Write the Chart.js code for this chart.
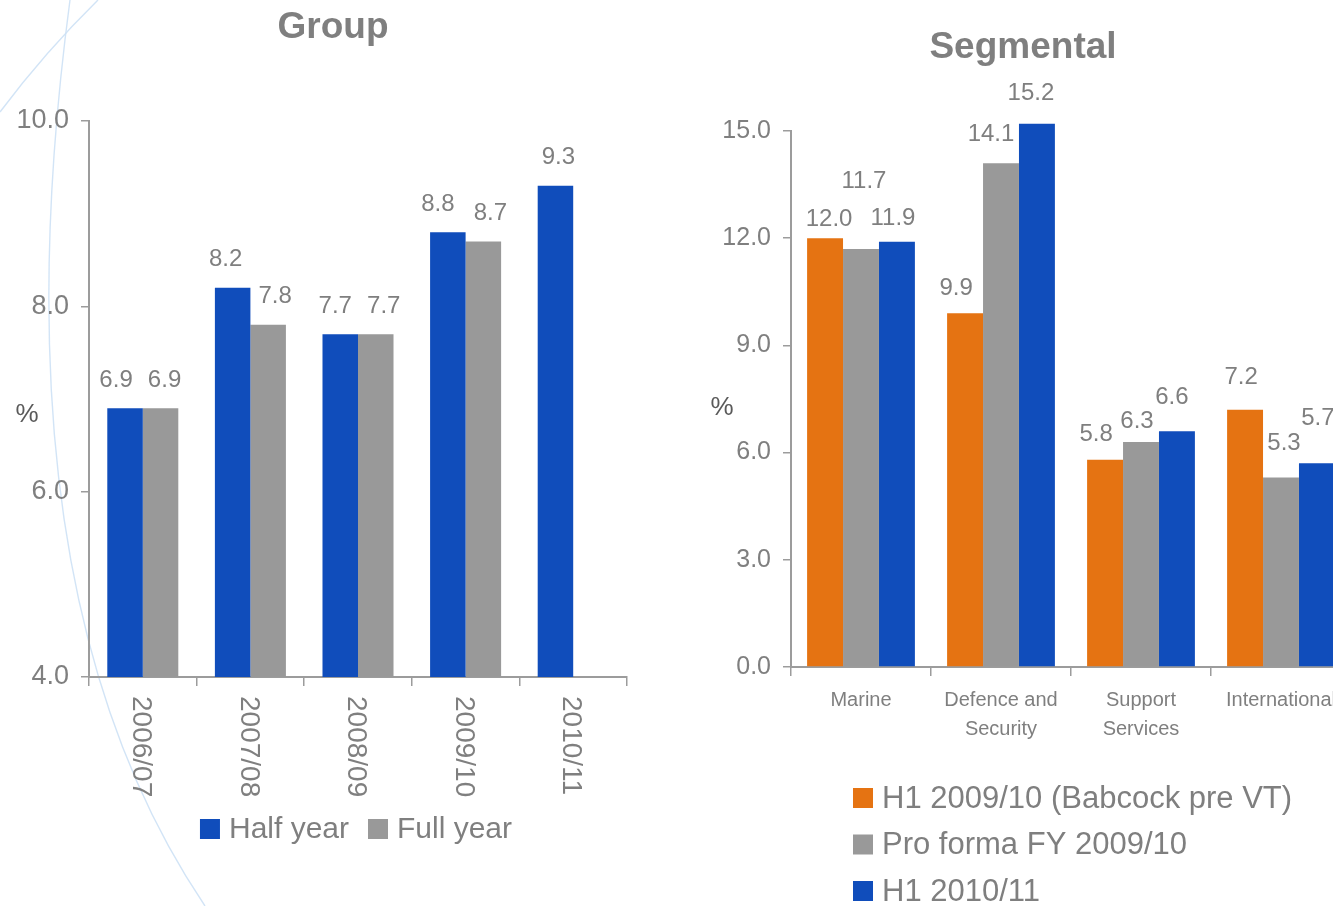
<!DOCTYPE html>
<html>
<head>
<meta charset="utf-8">
<script src="https://cdn.jsdelivr.net/npm/chart.js@4.4.1/dist/chart.umd.min.js"></script>
<style>
  html, body { margin: 0; padding: 0; background: #ffffff; overflow: hidden; width: 1333px; height: 906px; }
  canvas { position: absolute; top: 0; }
  #bg { left: 0; }
  #groupChart { left: 0; width: 690px; height: 906px; }
  #segChart { left: 690px; width: 700px; height: 906px; }
</style>
</head>
<body>
<canvas id="bg" width="1333" height="906"></canvas>
<canvas id="groupChart" width="690" height="906"></canvas>
<canvas id="segChart" width="700" height="906"></canvas>
<script>
// ---- Group margins (%) ----
const groupYears = ['2006/07', '2007/08', '2008/09', '2009/10', '2010/11'];
const halfYear   = [6.9, 8.2, 7.7, 8.8, 9.3];
const fullYear   = [6.9, 7.8, 7.7, 8.7, null];
const groupAxis  = { min: 4, max: 10, step: 2 };

// ---- Segmental margins (%) ----
const segments   = [['Marine'], ['Defence and', 'Security'], ['Support', 'Services'], ['International']];
const h1PreVT    = [12.0, 9.9, 5.8, 7.2];
const proFormaFY = [11.7, 14.1, 6.3, 5.3];
const h1Current  = [11.9, 15.2, 6.6, 5.7];
const segAxis    = { min: 0, max: 15, step: 3 };

// ---- look ----
const FONT = '"Liberation Sans", Arial, Helvetica, sans-serif';
const TEXT = '#7f7f7f';
const UNIT = '#5a5a5a';
const AXIS = '#9c9c9c';
const BLUE = '#104dbb';
const GREY = '#999999';
const ORANGE = '#e57312';

// value-label placement: px above bar top and sideways shift, per series/point
const groupLabelLift = [[28, 28, 28, 28, 28], [28, 28, 28, 28, 28]];
const groupLabelShift = [[-9, -7, -5, -10, 3], [4, 7, 8, 7, 0]];
const segLabelLift = [[19, 25, 25, 32], [68, 29, 21, 34], [23, 30, 34, 45]];
const segLabelShift = [[4, -9, -9, -4], [3, -10, -4, 3], [-4, -6, -5, 1]];

Chart.defaults.font.family = FONT;
Chart.defaults.color = TEXT;

// faint slide ornament behind the charts
(function () {
  const c = document.getElementById('bg').getContext('2d');
  c.strokeStyle = 'rgba(205,225,245,0.9)';
  c.lineWidth = 1.4;
  c.beginPath();
  c.moveTo(70, 0);
  c.bezierCurveTo(30, 300, 32, 650, 205, 906);
  c.stroke();
  c.beginPath();
  c.moveTo(0, 112);
  c.quadraticCurveTo(45, 52, 98, 0);
  c.stroke();
})();

// value labels above each bar
const valueLabels = {
  id: 'valueLabels',
  afterDatasetsDraw(chart, args, o) {
    const ctx = chart.ctx;
    ctx.save();
    ctx.font = `${o.size}px ${FONT}`;
    ctx.fillStyle = TEXT;
    ctx.textAlign = 'center';
    ctx.textBaseline = 'middle';
    chart.data.datasets.forEach((ds, di) => {
      chart.getDatasetMeta(di).data.forEach((bar, i) => {
        const v = ds.data[i];
        if (v === null || v === undefined) return;
        ctx.fillText(v.toFixed(1), bar.x + o.shift[di][i], bar.y - o.lift[di][i]);
      });
    });
    ctx.restore();
  }
};

// title, unit, legend and (optionally) vertical category labels
const chartDressing = {
  id: 'chartDressing',
  afterDraw(chart, args, o) {
    const ctx = chart.ctx;
    ctx.save();
    ctx.fillStyle = TEXT;
    ctx.font = `bold ${o.titleSize}px ${FONT}`;
    ctx.textAlign = 'center';
    ctx.textBaseline = 'alphabetic';
    ctx.fillText(o.title, o.titleX, o.titleY);

    ctx.fillStyle = UNIT;
    ctx.font = `${o.unitSize}px ${FONT}`;
    ctx.textBaseline = 'middle';
    ctx.fillText('%', o.unitX, o.unitY);

    if (o.verticalLabels) {
      const xs = chart.scales.x;
      ctx.fillStyle = TEXT;
      ctx.font = `${o.verticalLabels.size}px ${FONT}`;
      ctx.textAlign = 'left';
      chart.data.labels.forEach((lab, i) => {
        ctx.save();
        ctx.translate(xs.getPixelForTick(i) + o.verticalLabels.dx, xs.top + o.verticalLabels.gap);
        ctx.rotate(Math.PI / 2);
        ctx.fillText(lab, 0, 0);
        ctx.restore();
      });
    }

    const lg = o.legend;
    ctx.font = `${lg.size}px ${FONT}`;
    ctx.textAlign = 'left';
    ctx.textBaseline = 'middle';
    const items = chart.data.datasets.map(d => ({ text: d.label, color: d.backgroundColor }));
    if (lg.layout === 'row') {
      const widths = items.map(it => lg.box + lg.boxGap + ctx.measureText(it.text).width);
      const total = widths.reduce((a, b) => a + b, 0) + lg.itemGap * (items.length - 1);
      let x = lg.centerX - total / 2;
      items.forEach((it, i) => {
        ctx.fillStyle = it.color;
        ctx.fillRect(x, lg.y - lg.box / 2, lg.box, lg.box);
        ctx.fillStyle = TEXT;
        ctx.fillText(it.text, x + lg.box + lg.boxGap, lg.y + 1);
        x += widths[i] + lg.itemGap;
      });
    } else {
      items.forEach((it, i) => {
        const y = lg.y + i * lg.rowGap;
        ctx.fillStyle = it.color;
        ctx.fillRect(lg.x, y - lg.box / 2, lg.box, lg.box);
        ctx.fillStyle = TEXT;
        ctx.fillText(it.text, lg.x + lg.box + lg.boxGap, y + 1);
      });
    }
    ctx.restore();
  }
};

function axisY(range, labelSize, width) {
  return {
    min: range.min, max: range.max,
    ticks: { stepSize: range.step, callback: v => v.toFixed(1), font: { size: labelSize }, color: TEXT, padding: 12 },
    grid: { display: true, drawOnChartArea: false, drawTicks: true, tickLength: 8, color: AXIS, lineWidth: 1.5 },
    border: { display: true, color: AXIS, width: 2 },
    afterFit: s => { s.width = width; }
  };
}

// Group chart (axis starts at 4.0, bars are clipped to the plot area)
new Chart(document.getElementById('groupChart'), {
  type: 'bar',
  data: {
    labels: groupYears,
    datasets: [
      { label: 'Half year', data: halfYear, backgroundColor: BLUE },
      { label: 'Full year', data: fullYear, backgroundColor: GREY }
    ]
  },
  options: {
    responsive: false,
    animation: false,
    events: [],
    layout: { padding: { left: 0, right: 63, top: 121, bottom: 0 } },
    datasets: { bar: { categoryPercentage: 0.66, barPercentage: 1.0 } },
    plugins: {
      legend: { display: false },
      title: { display: false },
      tooltip: { enabled: false },
      valueLabels: { size: 24, lift: groupLabelLift, shift: groupLabelShift },
      chartDressing: {
        title: 'Group', titleSize: 37, titleX: 333, titleY: 38,
        unitSize: 26, unitX: 27, unitY: 415,
        verticalLabels: { size: 28, gap: 19, dx: -2 },
        legend: { layout: 'row', size: 30, box: 20, boxGap: 9, itemGap: 19, centerX: 356, y: 829 }
      }
    },
    scales: {
      x: {
        ticks: { display: false },
        grid: { display: true, offset: true, drawOnChartArea: false, drawTicks: true, tickLength: 9, color: AXIS, lineWidth: 1.5 },
        border: { display: true, color: AXIS, width: 2 },
        afterFit: s => { s.height = 229; }
      },
      y: axisY(groupAxis, 27, 89)
    }
  },
  plugins: [valueLabels, chartDressing]
});

// Segmental chart (the 15.2 bar is allowed to rise above the 15.0 axis top)
new Chart(document.getElementById('segChart'), {
  type: 'bar',
  data: {
    labels: segments,
    datasets: [
      { label: 'H1 2009/10 (Babcock pre VT)', data: h1PreVT, backgroundColor: ORANGE },
      { label: 'Pro forma FY 2009/10', data: proFormaFY, backgroundColor: GREY },
      { label: 'H1 2010/11', data: h1Current, backgroundColor: BLUE }
    ]
  },
  options: {
    responsive: false,
    animation: false,
    events: [],
    layout: { padding: { left: 0, right: 39, top: 131, bottom: 0 } },
    datasets: { bar: { categoryPercentage: 0.77, barPercentage: 1.0, clip: { left: 0, top: false, right: false, bottom: 0 } } },
    plugins: {
      legend: { display: false },
      title: { display: false },
      tooltip: { enabled: false },
      valueLabels: { size: 24, lift: segLabelLift, shift: segLabelShift },
      chartDressing: {
        title: 'Segmental', titleSize: 37, titleX: 333, titleY: 58,
        unitSize: 26, unitX: 32, unitY: 408,
        legend: { layout: 'column', size: 31, box: 20, boxGap: 9, x: 163, y: 798, rowGap: 46.5 }
      }
    },
    scales: {
      x: {
        ticks: { font: { size: 20, lineHeight: 1.45 }, color: TEXT, padding: 10, maxRotation: 0, minRotation: 0, autoSkip: false },
        grid: { display: true, offset: true, drawOnChartArea: false, drawTicks: true, tickLength: 9, color: AXIS, lineWidth: 1.5 },
        border: { display: true, color: AXIS, width: 2 },
        afterFit: s => { s.height = 239; }
      },
      y: axisY(segAxis, 25, 101)
    }
  },
  plugins: [valueLabels, chartDressing]
});
</script>
</body>
</html>
